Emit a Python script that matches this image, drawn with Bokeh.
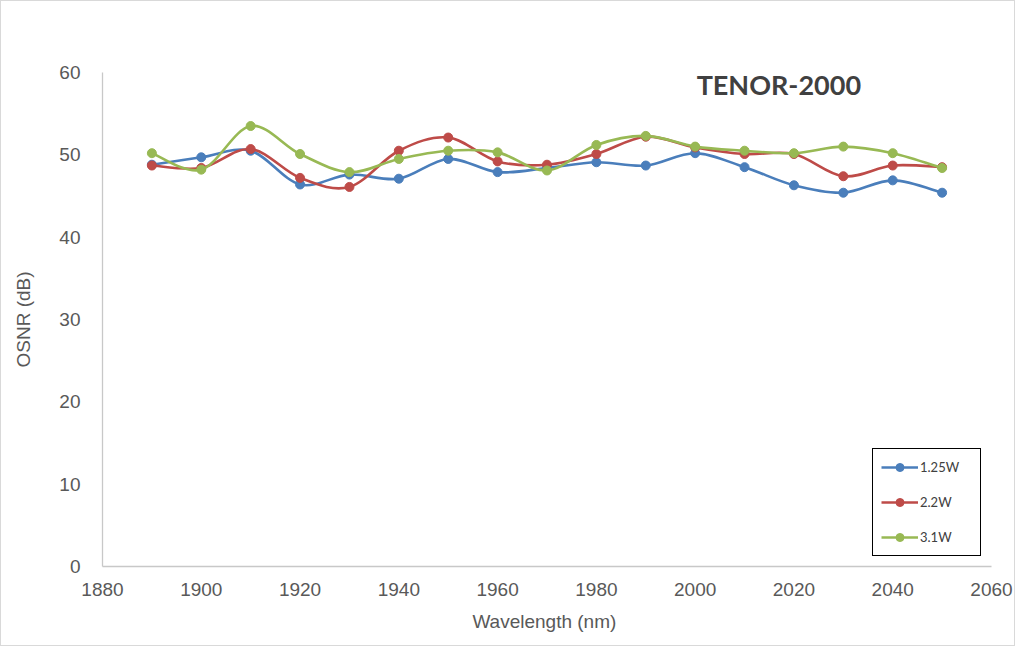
from bokeh.plotting import figure
from bokeh.models import Range1d, Label, Legend, LegendItem, FixedTicker
from bokeh.embed import file_html
from bokeh.resources import INLINE

# ---- data ----
wavelength = [1890, 1900, 1910, 1920, 1930, 1940, 1950, 1960, 1970,
              1980, 1990, 2000, 2010, 2020, 2030, 2040, 2050]
osnr_125w = [48.8, 49.7, 50.5, 46.4, 47.6, 47.1, 49.5, 47.9, 48.4,
             49.1, 48.7, 50.2, 48.5, 46.3, 45.4, 46.9, 45.4]
osnr_22w = [48.7, 48.4, 50.7, 47.2, 46.1, 50.5, 52.1, 49.2, 48.8,
            50.1, 52.2, 50.9, 50.1, 50.1, 47.4, 48.7, 48.5]
osnr_31w = [50.2, 48.2, 53.5, 50.1, 47.9, 49.5, 50.5, 50.3, 48.1,
            51.2, 52.3, 51.0, 50.5, 50.2, 51.0, 50.2, 48.4]
series_names = ["1.25W", "2.2W", "3.1W"]
series_colors = ["#4A7EBB", "#BE4B48", "#98B954"]
x_ticks = [1880, 1900, 1920, 1940, 1960, 1980, 2000, 2020, 2040, 2060]
y_ticks = [0, 10, 20, 30, 40, 50, 60]
chart_title = "TENOR-2000"

TICK_FONT = "Liberation Sans"
GRAY = "#595959"

p = figure(
    frame_width=889, frame_height=494,
    min_border_left=101, min_border_right=23, min_border_top=71, min_border_bottom=79,
    x_range=Range1d(1880, 2060), y_range=Range1d(0, 60),
    output_backend="svg", toolbar_location=None,
)
p.styles = {"border": "1px solid #d9d9d9"}
p.outline_line_color = None
p.grid.visible = False
p.background_fill_color = "white"
p.border_fill_color = "white"

for ax, ticks in ((p.xaxis[0], x_ticks), (p.yaxis[0], y_ticks)):
    ax.ticker = FixedTicker(ticks=ticks)
    ax.axis_line_color = "#c8c8c8"
    ax.axis_line_width = 1.3
    ax.major_tick_line_color = None
    ax.minor_tick_line_color = None
    ax.major_label_text_font = TICK_FONT
    ax.major_label_text_font_size = "19px"
    ax.major_label_text_color = GRAY
    ax.axis_label_text_font = TICK_FONT
    ax.axis_label_text_font_size = "19px"
    ax.axis_label_text_font_style = "normal"
    ax.axis_label_text_color = GRAY

p.xaxis.axis_label = "Wavelength  (nm)"
p.xaxis.major_label_standoff = 10
p.xaxis.axis_label_standoff = 12
p.yaxis.axis_label = "OSNR (dB)"
p.yaxis.major_label_standoff = 16
p.yaxis.axis_label_standoff = 22


def smooth_segments(xs, ys):
    """Cubic Bezier control points (Catmull-Rom style) between consecutive points."""
    n = len(xs)
    out = {k: [] for k in ("x0", "y0", "x1", "y1", "cx0", "cy0", "cx1", "cy1")}
    for i in range(n - 1):
        im1 = max(i - 1, 0)
        ip2 = min(i + 2, n - 1)
        out["x0"].append(xs[i]); out["y0"].append(ys[i])
        out["x1"].append(xs[i + 1]); out["y1"].append(ys[i + 1])
        out["cx0"].append(xs[i] + (xs[i + 1] - xs[im1]) / 6.0)
        out["cy0"].append(ys[i] + (ys[i + 1] - ys[im1]) / 6.0)
        out["cx1"].append(xs[i + 1] - (xs[ip2] - xs[i]) / 6.0)
        out["cy1"].append(ys[i + 1] - (ys[ip2] - ys[i]) / 6.0)
    return out


items = []
for name, color, vals in zip(series_names, series_colors, [osnr_125w, osnr_22w, osnr_31w]):
    seg = smooth_segments(wavelength, vals)
    b = p.bezier(x0=seg["x0"], y0=seg["y0"], x1=seg["x1"], y1=seg["y1"],
                 cx0=seg["cx0"], cy0=seg["cy0"], cx1=seg["cx1"], cy1=seg["cy1"],
                 line_color=color, line_width=2.6)
    s = p.scatter(wavelength, vals, size=9, fill_color=color, line_color=color)
    items.append(LegendItem(label=name, renderers=[b, s]))

legend = Legend(items=items, location=(770, 10))
legend.border_line_color = "black"
legend.border_line_width = 1
legend.border_line_alpha = 1
legend.background_fill_color = "white"
legend.background_fill_alpha = 1
legend.padding = 8
legend.spacing = 15
legend.glyph_width = 37
legend.glyph_height = 20
legend.label_height = 20
legend.label_width = 52
legend.label_standoff = 2
legend.label_text_font = "Lato"
legend.label_text_font_size = "13px"
legend.label_text_color = "#404040"
legend.margin = 0
p.add_layout(legend, "center")

title = Label(x=2000.3, y=58.5, text=chart_title, text_font="Lato",
              text_font_style="bold", text_font_size="27px", text_color="#404040",
              text_baseline="alphabetic", text_align="left")
p.add_layout(title)

open("out.html", "w").write(file_html(p, INLINE))
